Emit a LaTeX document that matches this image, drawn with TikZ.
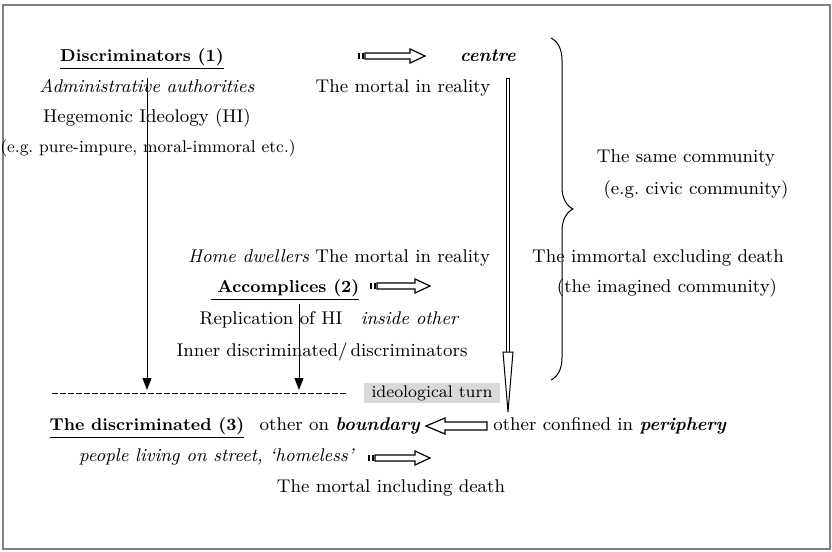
\documentclass[tikz,border=0pt]{standalone}
\usetikzlibrary{arrows.meta,decorations.pathreplacing}
\tikzset{
  txt/.style={font=\fontsize{9.2pt}{11pt}\selectfont\frenchspacing,text height=6.3pt,text depth=1.9pt,inner sep=1pt},
  bld/.style={font=\fontsize{8.6pt}{10pt}\selectfont\bfseries},
  hollow/.style={draw,fill=white,line width=.6pt},
  pics/stripearrow/.style={code={
    \fill (0,-3) rectangle (2,3);
    \fill (3.5,-3) rectangle (5.5,3);
    \draw[hollow] (7,-3) -- (#1-15,-3) -- (#1-15,-7) -- (#1,0) -- (#1-15,7) -- (#1-15,3) -- (7,3) -- cycle;
  }}
}
\begin{document}
\begin{tikzpicture}[x=.5pt,y=-.5pt,line width=.5pt,every node/.style={txt}]
  \path[use as bounding box] (0,0) rectangle (832,552);
  \draw[gray,line width=1pt] (3,5) rectangle (830,549);
  % left column
  \node[bld] (disc) at (142,57) {\underline{Discriminators (1)}};
  \node (admin) at (147,88) {\textit{Administrative authorities}};
  \node (hegem) at (147,118) {Hegemonic Ideology (HI)};
  \node[font=\fontsize{8.5pt}{10pt}\selectfont\frenchspacing] (eg) at (148,148) {(e.g. pure-impure, moral-immoral etc.)};
  \node[bld] (accomp) at (285,288) {\underline{\ Accomplices (2)}};
  \node (home) at (339,258) {\textit{Home dwellers} The mortal in reality};
  \node (replic) at (271,320) {Replication of HI};
  \node (inside) at (410,320) {\textit{inside other}};
  \node (inner) at (322,352) {Inner discriminated/\,discriminators};
  \node[bld] (discd) at (147,426) {\underline{The discriminated (3)}};
  \node (bound) at (340,426) {other on \textbf{\textit{boundary}}};
  \node (street) at (217,457) {\textit{people living on street, `homeless'}};
  \node (incl) at (391,488) {The mortal including death};
  % centre column
  \node (centre) at (488,57) {\textbf{\textit{centre}}};
  \node (mortal) at (403,88) {The mortal in reality};
  \node (periph) at (610,426) {other confined in \textbf{\textit{periphery}}};
  \node[fill=black!15,inner xsep=4pt,font=\fontsize{8.4pt}{10pt}\selectfont] (turn) at (432,393) {ideological turn};
  % right column
  \node (same) at (686,158) {The same community};
  \node (civic) at (696,190) {(e.g. civic community)};
  \node (immortal) at (658,258) {The immortal excluding death};
  \node (imag) at (667,288) {(the imagined community)};
  % dashed line and down arrows
  \coordinate (dl) at (52,393);
  \coordinate (dr) at (348,393);
  \draw[dash pattern=on 3pt off 1pt] (dl) -- (dr);
  \coordinate (d1) at (147,390);
  \coordinate (d2) at (299,390);
  \draw[-{Triangle[width=4.5pt,length=6pt]}] (147,78) -- (d1);
  \draw[-{Triangle[width=4.5pt,length=6pt]}] (299,304) -- (d2);
  % long arrow centre -> periphery
  \coordinate (ctop) at (508,78);
  \coordinate (cbot) at (508,412);
  \draw[hollow,line width=.5pt] (506.5,78) rectangle (509.5,352);
  \draw[hollow,line width=.5pt] (503,352) -- (513,352) -- (cbot) -- cycle;
  % arrow periphery -> boundary
  \draw[hollow] (426,426) -- (445,418) -- (445,422) -- (487,422) -- (487,430) -- (445,430) -- (445,434) -- cycle;
  % small striped arrows
  \pic at (358,56) {stripearrow=67};
  \pic at (370,286) {stripearrow=60};
  \pic at (368,458) {stripearrow=62};
  % brace
  \draw[decorate,decoration={brace,amplitude=11pt}] (551,38) -- (551,380);
\end{tikzpicture}
\end{document}
